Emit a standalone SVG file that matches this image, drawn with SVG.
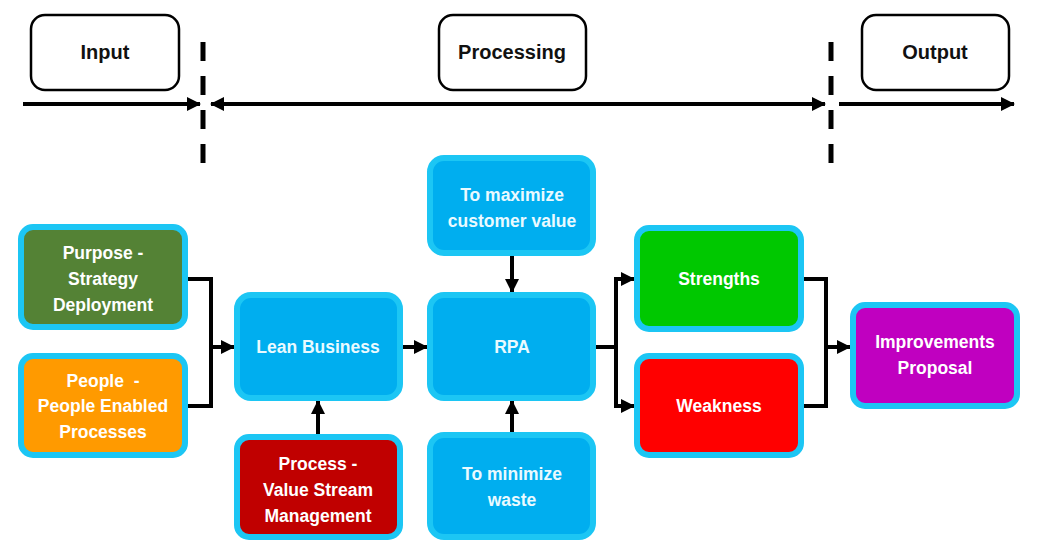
<svg xmlns="http://www.w3.org/2000/svg" width="1040" height="560" viewBox="0 0 1040 560">
<defs>
<marker id="ah" markerUnits="userSpaceOnUse" markerWidth="14" markerHeight="14" refX="13" refY="7" orient="auto-start-reverse" viewBox="0 0 14 14">
<path d="M0,0 L14,7 L0,14 z" fill="#000"/>
</marker>
<style>
.hdr rect{fill:#fff;stroke:#000;stroke-width:2.5}
.hdr text{font-family:"Liberation Sans",Arial,sans-serif;font-weight:bold;font-size:20px;fill:#111;text-anchor:middle}
.node rect{stroke:#1CC6F4;stroke-width:6}
.node text{font-family:"Liberation Sans",Arial,sans-serif;font-weight:bold;font-size:17.5px;fill:#fff;text-anchor:middle;white-space:pre}
.blue rect{fill:#00AEEF}
.blue text{fill:#EAFAFF}
.ln{fill:none;stroke:#000;stroke-width:4}
.dash{fill:none;stroke:#000;stroke-width:5;stroke-dasharray:19 15}
</style>
</defs>
<rect width="1040" height="560" fill="#fff"/>

<g id="hdr-input" class="hdr"><rect x="31" y="15" width="148" height="75" rx="14"/><text x="105" y="59">Input</text></g>
<g id="hdr-processing" class="hdr"><rect x="439" y="15" width="147" height="75" rx="14"/><text x="512" y="59">Processing</text></g>
<g id="hdr-output" class="hdr"><rect x="862" y="15" width="147" height="75" rx="14"/><text x="935" y="59">Output</text></g>

<g id="connectors">
<path class="dash" d="M203,42 V170"/>
<path class="dash" d="M831,42 V170"/>
<path class="ln" d="M23,104 H200" marker-end="url(#ah)"/>
<path class="ln" d="M211,104 H825" marker-start="url(#ah)" marker-end="url(#ah)"/>
<path class="ln" d="M839,104 H1014" marker-end="url(#ah)"/>
<path class="ln" d="M188,279 H211 V406 H188"/>
<path class="ln" d="M211,347 H234" marker-end="url(#ah)"/>
<path class="ln" d="M403,347 H427" marker-end="url(#ah)"/>
<path class="ln" d="M318,434 V401" marker-end="url(#ah)"/>
<path class="ln" d="M512,256 V292" marker-end="url(#ah)"/>
<path class="ln" d="M512,432 V401" marker-end="url(#ah)"/>
<path class="ln" d="M596,347 H616"/>
<path class="ln" d="M616,406 V279 H634" marker-end="url(#ah)"/>
<path class="ln" d="M616,404 V406 H634" marker-end="url(#ah)"/>
<path class="ln" d="M804,279 H826 V406 H804"/>
<path class="ln" d="M826,347 H850" marker-end="url(#ah)"/>
</g>

<g id="purpose" class="node"><rect x="21" y="227" width="164" height="100" rx="12" fill="#548235"/>
<text x="103" y="259">Purpose -</text><text x="103" y="285">Strategy</text><text x="103" y="311">Deployment</text></g>
<g id="people" class="node"><rect x="21" y="356" width="164" height="99" rx="12" fill="#FF9A00"/>
<text x="103" y="387" xml:space="preserve">People  -</text><text x="103" y="412">People Enabled</text><text x="103" y="438">Processes</text></g>
<g id="lean" class="node blue"><rect x="237" y="295" width="163" height="103" rx="14"/>
<text x="318" y="353">Lean Business</text></g>
<g id="process" class="node"><rect x="237" y="437" width="163" height="100" rx="12" fill="#C00000"/>
<text x="318" y="470">Process -</text><text x="318" y="496">Value Stream</text><text x="318" y="522">Management</text></g>
<g id="maximize" class="node blue"><rect x="430" y="158" width="163" height="95" rx="14"/>
<text x="512" y="201">To maximize</text><text x="512" y="227">customer value</text></g>
<g id="rpa" class="node blue"><rect x="430" y="295" width="163" height="103" rx="14"/>
<text x="512" y="353">RPA</text></g>
<g id="minimize" class="node blue"><rect x="430" y="435" width="163" height="102" rx="14"/>
<text x="512" y="480">To minimize</text><text x="512" y="506">waste</text></g>
<g id="strengths" class="node"><rect x="637" y="228" width="164" height="101" rx="12" fill="#00C800"/>
<text x="719" y="285">Strengths</text></g>
<g id="weakness" class="node"><rect x="637" y="356" width="164" height="99" rx="12" fill="#FF0000"/>
<text x="719" y="412">Weakness</text></g>
<g id="improvements" class="node"><rect x="853" y="305" width="164" height="101" rx="12" fill="#C000C0"/>
<text x="935" y="348">Improvements</text><text x="935" y="374">Proposal</text></g>
</svg>
